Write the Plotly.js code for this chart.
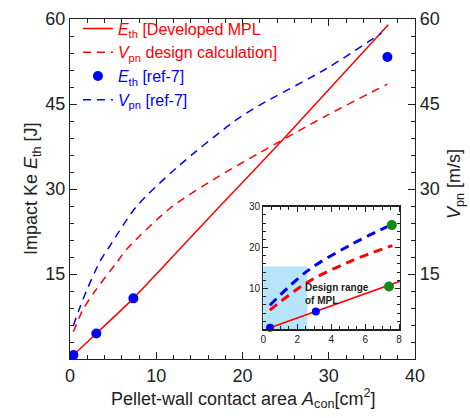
<!DOCTYPE html>
<html>
<head>
<meta charset="utf-8">
<script src="https://cdn.plot.ly/plotly-3.0.1.min.js"></script>
<style>html,body{margin:0;padding:0;background:#fff;}#chart{width:470px;height:418px;}</style>
</head>
<body>
<div id="chart"></div>
<script>
// ---- Main plot data ----
var devX = [0.4, 3.05, 7.35, 17.4, 24.8, 36.9];
var devE = [0.7, 4.5, 10.7, 27.0, 38.9, 59.0];

var designX = [0.4, 1.5, 2.9, 5.4, 6.6, 11.6, 17.0, 22.0, 29.8, 36.8];
var designV = [4.8, 8.7, 12.0, 17.0, 19.4, 26.6, 32.0, 36.4, 43.0, 48.5];

var refEX = [0.4, 3.05, 7.35, 36.8];
var refE = [0.7, 4.5, 10.7, 53.3];

var refVX = [0.4, 1.0, 1.9, 3.5, 4.6, 7.7, 12.4, 19.1, 22.0, 29.8, 36.1];
var refV = [5.9, 8.5, 12.0, 17.3, 19.9, 26.9, 33.8, 42.0, 44.8, 51.3, 57.5];

// ---- Inset data ----
var insDevX = [0.4, 3.1, 7.4, 8.2];
var insDevE = [0.4, 4.4, 10.8, 12.0];
var insDesignX = [0.39, 2.6, 5.16, 7.6];
var insDesignV = [4.7, 11.5, 16.7, 20.5];
var insRefVX = [0.39, 2.6, 5.16, 7.3];
var insRefV = [5.9, 14.3, 20.7, 25.1];
var insRefEX = [0.4, 3.1];
var insRefE = [0.4, 4.4];
var insGreenX = [7.4, 7.57];
var insGreenY = [10.5, 25.5];
var designRangeX = [0, 2.6];
var designRangeY = [0, 15.4];

// ---- Tick labels ----
var mainYTicks = [15, 30, 45, 60];
var insetYTicks = [10, 20, 30];

var FONT = 'Liberation Sans, Arial, sans-serif';
var RED = '#ff0000';
var BLUE = '#0000ff';
var GREEN = '#138a13';
var AX = '#222';

var traces = [
  {x: devX, y: devE, mode: 'lines', type: 'scatter', xaxis: 'x', yaxis: 'y',
   line: {color: RED, width: 1.5, shape: 'spline', smoothing: 0.5},
   name: '<span style="color:#ff0000"><i>E</i><sub>th</sub> [Developed MPL</span>'},
  {x: designX, y: designV, mode: 'lines', type: 'scatter', xaxis: 'x', yaxis: 'y2',
   line: {color: RED, width: 1.5, dash: '8px,6px', shape: 'spline', smoothing: 0.8},
   name: '<span style="color:#ff0000"><i>V</i><sub>pn</sub> design calculation]</span>'},
  {x: refEX, y: refE, mode: 'markers', type: 'scatter', xaxis: 'x', yaxis: 'y',
   marker: {color: BLUE, size: 10},
   name: '<span style="color:#0000ff"><i>E</i><sub>th</sub> [ref-7]</span>'},
  {x: refVX, y: refV, mode: 'lines', type: 'scatter', xaxis: 'x', yaxis: 'y2',
   line: {color: BLUE, width: 1.5, dash: '8px,6px', shape: 'spline', smoothing: 0.8},
   name: '<span style="color:#0000ff"><i>V</i><sub>pn</sub> [ref-7]</span>'},
  // inset
  {x: insRefVX, y: insRefV, mode: 'lines', type: 'scatter', xaxis: 'x2', yaxis: 'y3',
   line: {color: BLUE, width: 3, dash: '9px,6px', shape: 'spline', smoothing: 1}, showlegend: false},
  {x: insDesignX, y: insDesignV, mode: 'lines', type: 'scatter', xaxis: 'x2', yaxis: 'y3',
   line: {color: RED, width: 3, dash: '9px,6px', shape: 'spline', smoothing: 1}, showlegend: false},
  {x: insDevX, y: insDevE, mode: 'lines', type: 'scatter', xaxis: 'x2', yaxis: 'y3',
   line: {color: RED, width: 1.5}, showlegend: false},
  {x: insRefEX, y: insRefE, mode: 'markers', type: 'scatter', xaxis: 'x2', yaxis: 'y3',
   marker: {color: BLUE, size: 8}, showlegend: false, cliponaxis: false},
  {x: insGreenX, y: insGreenY, mode: 'markers', type: 'scatter', xaxis: 'x2', yaxis: 'y3',
   marker: {color: GREEN, size: 10}, showlegend: false, cliponaxis: false}
];

var mainTickFont = {family: FONT, size: 18, color: '#222'};
var insTickFont = {family: FONT, size: 10, color: '#222'};
var titleFont = {family: FONT, size: 18, color: '#222'};

var layout = {
  width: 470, height: 418,
  margin: {l: 70, r: 55, t: 15, b: 59},
  paper_bgcolor: '#fff', plot_bgcolor: 'rgba(0,0,0,0)',
  font: {family: FONT, color: '#222'},
  showlegend: true,
  legend: {x: 0.023, y: 1.022, xanchor: 'left', yanchor: 'top', bgcolor: 'rgba(0,0,0,0)',
           font: {family: FONT, size: 16}, tracegroupgap: 0, itemwidth: 30},
  xaxis: {domain: [0, 1], range: [0, 40], tick0: 0, dtick: 10, ticks: 'inside', ticklen: 7,
          tickcolor: AX, showline: true, linecolor: AX, linewidth: 1.2, mirror: 'ticks',
          zeroline: false, showgrid: false, tickfont: mainTickFont,
          minor: {tickmode: 'linear', tick0: 0, dtick: 2, ticks: 'inside', ticklen: 4, tickcolor: AX}},
  yaxis: {domain: [0, 1], range: [0, 60], tickmode: 'array', tickvals: mainYTicks,
          ticks: 'inside', ticklen: 7, tickcolor: AX, showline: true, linecolor: AX, linewidth: 1.2,
          zeroline: false, showgrid: false, tickfont: mainTickFont,
          minor: {tickmode: 'linear', tick0: 0, dtick: 3, ticks: 'inside', ticklen: 4, tickcolor: AX}},
  yaxis2: {overlaying: 'y', side: 'right', anchor: 'x', range: [0, 60], tickmode: 'array', tickvals: mainYTicks,
          ticks: 'inside', ticklen: 7, tickcolor: AX, showline: true, linecolor: AX, linewidth: 1.2,
          zeroline: false, showgrid: false, tickfont: mainTickFont,
          minor: {tickmode: 'linear', tick0: 0, dtick: 3, ticks: 'inside', ticklen: 4, tickcolor: AX}},
  xaxis2: {domain: [0.560, 0.957], anchor: 'y3', range: [0, 8.06], tick0: 0, dtick: 2,
           ticks: 'inside', ticklen: 5, tickcolor: AX, showline: true, linecolor: AX, linewidth: 1.2,
           mirror: 'ticks', zeroline: false, showgrid: false, tickfont: insTickFont,
           minor: {tickmode: 'linear', tick0: 0, dtick: 0.5, ticks: 'inside', ticklen: 3, tickcolor: AX}},
  yaxis3: {domain: [0.087, 0.448], anchor: 'x2', range: [0, 30], tickmode: 'array', tickvals: insetYTicks,
           ticks: 'inside', ticklen: 5, tickcolor: AX, showline: true, linecolor: AX, linewidth: 1.2,
           mirror: 'ticks', zeroline: false, showgrid: false, tickfont: insTickFont,
           minor: {tickmode: 'linear', tick0: 0, dtick: 2, ticks: 'inside', ticklen: 3, tickcolor: AX}},
  shapes: [
    {type: 'rect', xref: 'x2', yref: 'y3', x0: designRangeX[0], x1: designRangeX[1],
     y0: designRangeY[0], y1: designRangeY[1], fillcolor: '#b6e4f8', line: {width: 0}, layer: 'below'}
  ],
  annotations: [
    {xref: 'x2', yref: 'y3', x: 2.35, y: 8.7, xanchor: 'left', yanchor: 'middle', align: 'left',
     showarrow: false, text: '<b>Design range<br>of MPL</b>',
     font: {family: FONT, size: 10, color: '#222'}},
    {xref: 'paper', yref: 'paper', x: 0.5, y: -0.115, xanchor: 'center', yanchor: 'middle',
     showarrow: false, text: 'Pellet-wall contact area <i>A</i><sub>con</sub>[cm<sup>2</sup>]', font: titleFont},
    {xref: 'paper', yref: 'paper', x: -0.11, y: 0.5, xanchor: 'center', yanchor: 'middle', textangle: -90,
     showarrow: false, text: 'Impact Ke <i>E</i><sub>th</sub> [J]', font: titleFont},
    {xref: 'paper', yref: 'paper', x: 1.119, y: 0.515, xanchor: 'center', yanchor: 'middle', textangle: -90,
     showarrow: false, text: '<i>V</i><sub>pn</sub> [m/s]', font: titleFont}
  ]
};

Plotly.newPlot('chart', traces, layout, {displayModeBar: false, staticPlot: true});
</script>
</body>
</html>
